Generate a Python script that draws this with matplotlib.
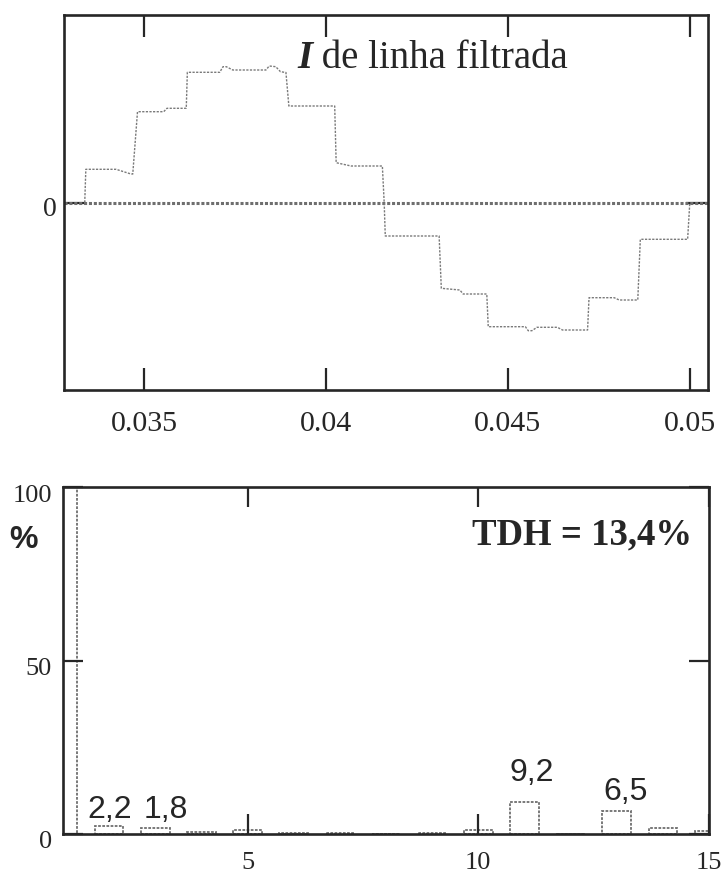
import matplotlib
matplotlib.use("Agg")
import matplotlib.pyplot as plt
from matplotlib.transforms import ScaledTranslation

# ---------------- data ----------------
# filtered line current waveform (vertices of the stepped trace, arbitrary units)
time_s = [0.03337, 0.03340, 0.03423, 0.03464, 0.03469, 0.03482, 0.03554, 0.03563,
          0.03616, 0.03619, 0.03708, 0.03717, 0.03726, 0.03744, 0.03835, 0.03844,
          0.03862, 0.03875, 0.03890, 0.03898, 0.04024, 0.04028, 0.04069, 0.04155,
          0.04160, 0.04163, 0.04311, 0.04317, 0.04368, 0.04377, 0.04442, 0.04446,
          0.04548, 0.04556, 0.04566, 0.04580, 0.04636, 0.04650, 0.04719, 0.04723,
          0.04792, 0.04806, 0.04857, 0.04864, 0.04994, 0.05000]
current = [0.0, 0.332, 0.332, 0.285, 0.285, 0.908, 0.908, 0.942,
           0.942, 1.302, 1.302, 1.358, 1.358, 1.325, 1.325, 1.365,
           1.358, 1.308, 1.300, 0.965, 0.965, 0.398, 0.365, 0.365,
           0.0, -0.335, -0.335, -0.858, -0.875, -0.915, -0.915, -1.242,
           -1.242, -1.282, -1.282, -1.248, -1.248, -1.275, -1.275, -0.952,
           -0.952, -0.975, -0.975, -0.368, -0.368, 0.0]

top_xticks = [0.035, 0.04, 0.045, 0.05]
top_xticklabels = ["0.035", "0.04", "0.045", "0.05"]
top_title_bold = "I"
top_title_rest = " de linha filtrada"

# harmonic spectrum (% of fundamental)
harmonics = [1, 2, 3, 4, 5, 6, 7, 8, 9, 10, 11, 12, 13, 14, 15]
amplitude_pct = [100, 2.2, 1.8, 0.5, 1.2, 0.4, 0.4, 0.0, 0.4, 1.2, 9.2, 0.0, 6.5, 1.6, 1.0]
labelled_harmonics = [2, 3, 11, 13]
labelled_texts = ["2,2", "1,8", "9,2", "6,5"]
bottom_xticks = [5, 10, 15]
bottom_yticks = [0, 50, 100]
thd_text = "TDH = 13,4%"
y_unit = "%"

# ---------------- style ----------------
SERIF = ["Liberation Serif", "DejaVu Serif"]
SANS = ["Liberation Sans", "DejaVu Sans"]
INK = "#262626"
TRACE = "#7a7a7a"

fig = plt.figure(figsize=(7.22, 8.73), dpi=100)

# ---- top panel ----
ax1 = fig.add_axes([64 / 722, 1 - 390 / 873, 644 / 722, 375 / 873])
ax1.axhline(0, color="#6e6e6e", lw=2.2, ls=(0, (1, 0.6)), zorder=2)
ax1.plot(time_s, current, color=TRACE, lw=1.0, ls=(0, (1.6, 1.0)), zorder=3)
ax1.set_xlim(0.0328, 0.0505)
ax1.set_ylim(-1.875, 1.875)
ax1.set_xticks(top_xticks)
ax1.set_xticklabels(top_xticklabels)
ax1.set_yticks([0])
ax1.set_yticklabels(["0"])
ax1.tick_params(axis="both", direction="in", top=True, right=True,
                length=16, width=1.6, color=INK)
ax1.tick_params(axis="x", pad=15, labelsize=21.5)
ax1.tick_params(axis="y", pad=5, labelsize=20)
for lab in ax1.get_xticklabels() + ax1.get_yticklabels():
    lab.set_fontfamily(SERIF)
    lab.set_color(INK)
for lab in ax1.get_yticklabels():
    lab.set_transform(lab.get_transform() + ScaledTranslation(0, -4 / 100, fig.dpi_scale_trans))

t1 = ax1.text(0.362, 0.859, top_title_bold, transform=ax1.transAxes,
              fontsize=28, fontweight="bold", fontstyle="italic",
              family=SERIF, color=INK, ha="left", va="baseline")
ax1.annotate(top_title_rest, xy=(1, 0), xycoords=t1, fontsize=28,
             family=SERIF, color=INK, ha="left", va="bottom")

# ---- bottom panel ----
ax2 = fig.add_axes([63 / 722, 1 - 834 / 873, 646 / 722, 347 / 873])
ax2.bar(harmonics, amplitude_pct, width=0.62, facecolor="white",
        edgecolor="#6e6e6e", lw=1.3, ls=(0, (1.5, 0.8)), zorder=1)
ax2.set_xlim(1, 15)
ax2.set_ylim(0, 100)
ax2.set_xticks(bottom_xticks)
ax2.set_yticks(bottom_yticks)
ax2.tick_params(axis="both", direction="in", top=True, right=True,
                length=14.5, width=1.6, color=INK)
ax2.tick_params(axis="x", pad=13, labelsize=19)
ax2.tick_params(axis="y", pad=8, labelsize=19)
for lab in ax2.get_xticklabels() + ax2.get_yticklabels():
    lab.set_fontfamily(SERIF)
    lab.set_color(INK)
for lab in ax2.get_yticklabels():
    lab.set_transform(lab.get_transform() + ScaledTranslation(0, -6 / 100, fig.dpi_scale_trans))

label_dx = [0.02, 0.22, 0.15, 0.2]
label_dy_pt = [6, 7, 15, 8]
for h, txt, dx, dy in zip(labelled_harmonics, labelled_texts, label_dx, label_dy_pt):
    v = amplitude_pct[harmonics.index(h)]
    ax2.annotate(txt, xy=(h + dx, v), xytext=(0, dy), textcoords="offset points",
                 ha="center", va="baseline", fontsize=23, family=SANS, color=INK)

ax2.text(0.974, 0.833, thd_text, transform=ax2.transAxes, ha="right", va="baseline",
         fontsize=26.5, fontweight="bold", family=SERIF, color=INK)
fig.text(23 / 722, 1 - 548 / 873, y_unit, ha="center", va="baseline",
         fontsize=23, fontweight="bold", family=SANS, color=INK)

for ax in (ax1, ax2):
    for sp in ax.spines.values():
        sp.set_linewidth(1.9)
        sp.set_color(INK)

fig.savefig("out.png", dpi=100, facecolor="white")
